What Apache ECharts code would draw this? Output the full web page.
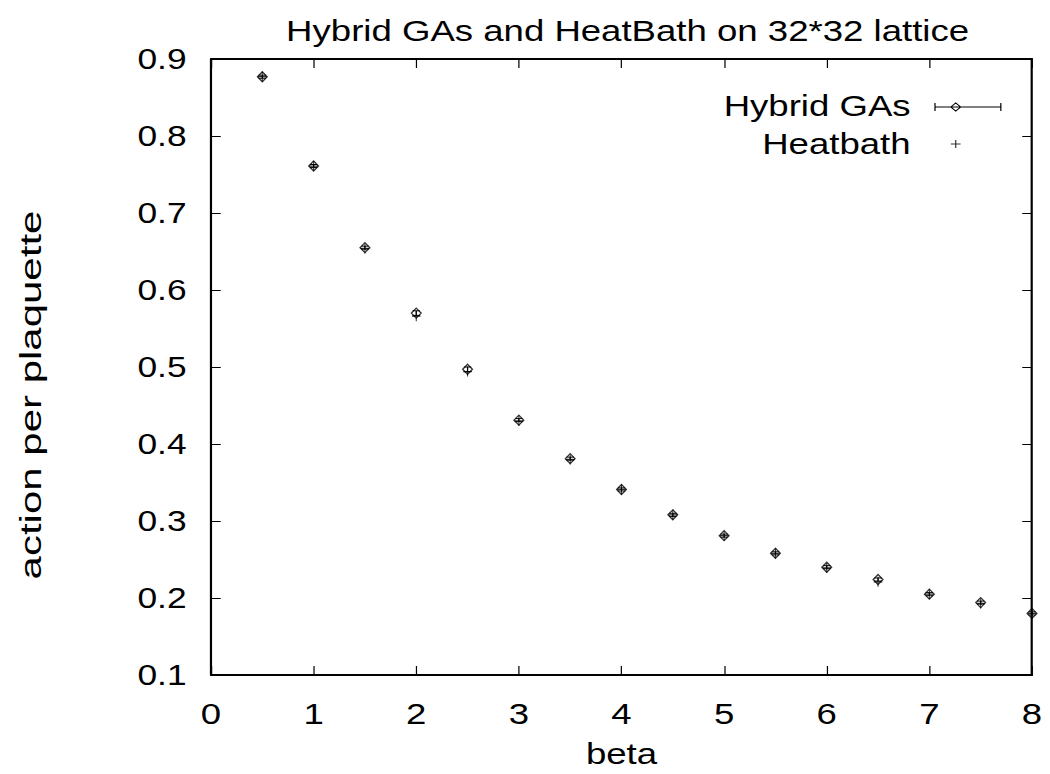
<!DOCTYPE html>
<html><head><meta charset="utf-8">
<script src="https://cdn.jsdelivr.net/npm/echarts@6/dist/echarts.min.js"></script>
<style>
html,body{margin:0;padding:0;background:#fff;overflow:hidden}
#wrap{width:1050px;height:774px;overflow:hidden;position:relative}
#c{width:861px;height:774px;transform:scaleX(1.2195);transform-origin:0 0}
</style></head><body><div id="wrap"><div id="c"></div></div>
<script>
// ---- data ----
const beta = [0.5, 1.0, 1.5, 2.0, 2.5, 3.0, 3.5, 4.0, 4.5, 5.0, 5.5, 6.0, 6.5, 7.0, 7.5, 8.0];
const hybridGAs = [0.877, 0.761, 0.655, 0.570, 0.497, 0.431, 0.381, 0.341, 0.308, 0.281, 0.258, 0.240, 0.224, 0.205, 0.194, 0.180];
const hybridErr = [0.002, 0.002, 0.002, 0.003, 0.003, 0.002, 0.002, 0.002, 0.002, 0.002, 0.002, 0.002, 0.002, 0.002, 0.002, 0.002];
const heatbath = [0.877, 0.761, 0.654, 0.566, 0.494, 0.430, 0.380, 0.341, 0.308, 0.281, 0.258, 0.239, 0.221, 0.205, 0.193, 0.180];
const xTicks = ['0', '1', '2', '3', '4', '5', '6', '7', '8'];
const yTicks = ['0.1', '0.2', '0.3', '0.4', '0.5', '0.6', '0.7', '0.8', '0.9'];
const titleText = 'Hybrid GAs and HeatBath on 32*32 lattice';
const xName = 'beta';
const yName = 'action per plaquette';
const seriesNames = ['Hybrid GAs', 'Heatbath'];

// ---- chart ----
const S = 1.2195;
const FONT = 'Liberation Sans, Arial, Helvetica, sans-serif';
const chart = echarts.init(document.getElementById('c'), null, {renderer: 'svg'});
const tickStyleIn = {show: true, inside: true, length: 9, lineStyle: {color: '#000', width: 1}};
const axisLineStyle = {show: true, onZero: false, lineStyle: {color: '#000', width: 1.8}};
const labelStyle = {color: '#000', fontFamily: FONT, fontSize: 30};

const option = {
  backgroundColor: '#fff',
  animation: false,
  textStyle: {fontFamily: FONT, color: '#000'},
  grid: {left: 211 / S, right: 18 / S, top: 59, bottom: 97, containLabel: false},
  legend: {
    orient: 'vertical', align: 'right', right: 40 / S, top: 86,
    itemWidth: 69, itemHeight: 12, itemGap: 8,
    textStyle: {fontFamily: FONT, fontSize: 30, color: '#000'},
    itemStyle: {color: 'none', borderColor: '#000', borderWidth: 1},
    selectedMode: false,
    data: [
      {name: seriesNames[0], icon: 'path://M0,0L0,0M15,6L69,6M15,2L15,10M69,2L69,10M28,6L32,2L36,6L32,10Z'},
      {name: seriesNames[1], icon: 'path://M0,0L0,0M69,12L69,12M28,6L36,6M32,2L32,10'}
    ]
  },
  graphic: [{
    type: 'text', x: 31 / S, y: 395, rotation: Math.PI / 2, scaleX: 1.40, scaleY: 1 / S,
    silent: true,
    style: {text: yName, font: '30px ' + FONT, fill: '#000', align: 'center', verticalAlign: 'middle'}
  }],
  xAxis: [
    {type: 'value', min: 0, max: 8, interval: 1, position: 'bottom',
     name: xName, nameLocation: 'middle', nameGap: 64,
     nameTextStyle: {fontFamily: FONT, fontSize: 30, color: '#000'},
     axisLine: axisLineStyle, axisTick: tickStyleIn,
     axisLabel: Object.assign({margin: 24, formatter: (v) => xTicks[Math.round(v)]}, labelStyle),
     splitLine: {show: false}},
    {type: 'value', min: 0, max: 8, interval: 1, position: 'top',
     name: titleText, nameLocation: 'middle', nameGap: 13,
     nameTextStyle: {fontFamily: FONT, fontSize: 30, color: '#000', padding: [0, 0, 0, 10]},
     axisLine: axisLineStyle, axisTick: tickStyleIn, axisLabel: {show: false}, splitLine: {show: false}}
  ],
  yAxis: [
    {type: 'value', min: 0.1, max: 0.9, interval: 0.1, position: 'left',
     axisLine: axisLineStyle, axisTick: Object.assign({}, tickStyleIn, {length: 8}),
     axisLabel: Object.assign({}, labelStyle, {fontSize: 29, margin: 20, formatter: (v) => yTicks[Math.round(v * 10) - 1]}),
     splitLine: {show: false}},
    {type: 'value', min: 0.1, max: 0.9, interval: 0.1, position: 'right',
     axisLine: axisLineStyle, axisTick: Object.assign({}, tickStyleIn, {length: 8}),
     axisLabel: {show: false}, splitLine: {show: false}}
  ],
  series: [
    {
      name: seriesNames[0], type: 'custom', silent: true, z: 3,
      data: beta.map((b, i) => [b, hybridGAs[i] - hybridErr[i], hybridGAs[i] + hybridErr[i]]),
      renderItem: function (params, api) {
        const x = api.value(0);
        const lo = api.coord([x, api.value(1)]);
        const hi = api.coord([x, api.value(2)]);
        const w = 3;
        const st = {stroke: '#000', lineWidth: 1};
        return {type: 'group', children: [
          {type: 'line', shape: {x1: lo[0], y1: lo[1], x2: hi[0], y2: hi[1]}, style: st},
          {type: 'line', shape: {x1: lo[0] - w, y1: lo[1], x2: lo[0] + w, y2: lo[1]}, style: st},
          {type: 'line', shape: {x1: hi[0] - w, y1: hi[1], x2: hi[0] + w, y2: hi[1]}, style: st}
        ]};
      }
    },
    {
      name: seriesNames[0], type: 'scatter', symbol: 'diamond', symbolSize: [8, 10], z: 4,
      itemStyle: {color: 'rgba(0,0,0,0)', borderColor: '#000', borderWidth: 1.2},
      emphasis: {disabled: true}, silent: true,
      data: beta.map((b, i) => [b, hybridGAs[i]])
    },
    {
      name: seriesNames[1], type: 'scatter', symbol: 'path://M0,5L10,5M5,0L5,10', symbolSize: [7, 10], z: 5,
      itemStyle: {color: 'none', borderColor: '#000', borderWidth: 1},
      emphasis: {disabled: true}, silent: true,
      data: beta.map((b, i) => [b, heatbath[i]])
    }
  ]
};
chart.setOption(option);
</script>
</body></html>
